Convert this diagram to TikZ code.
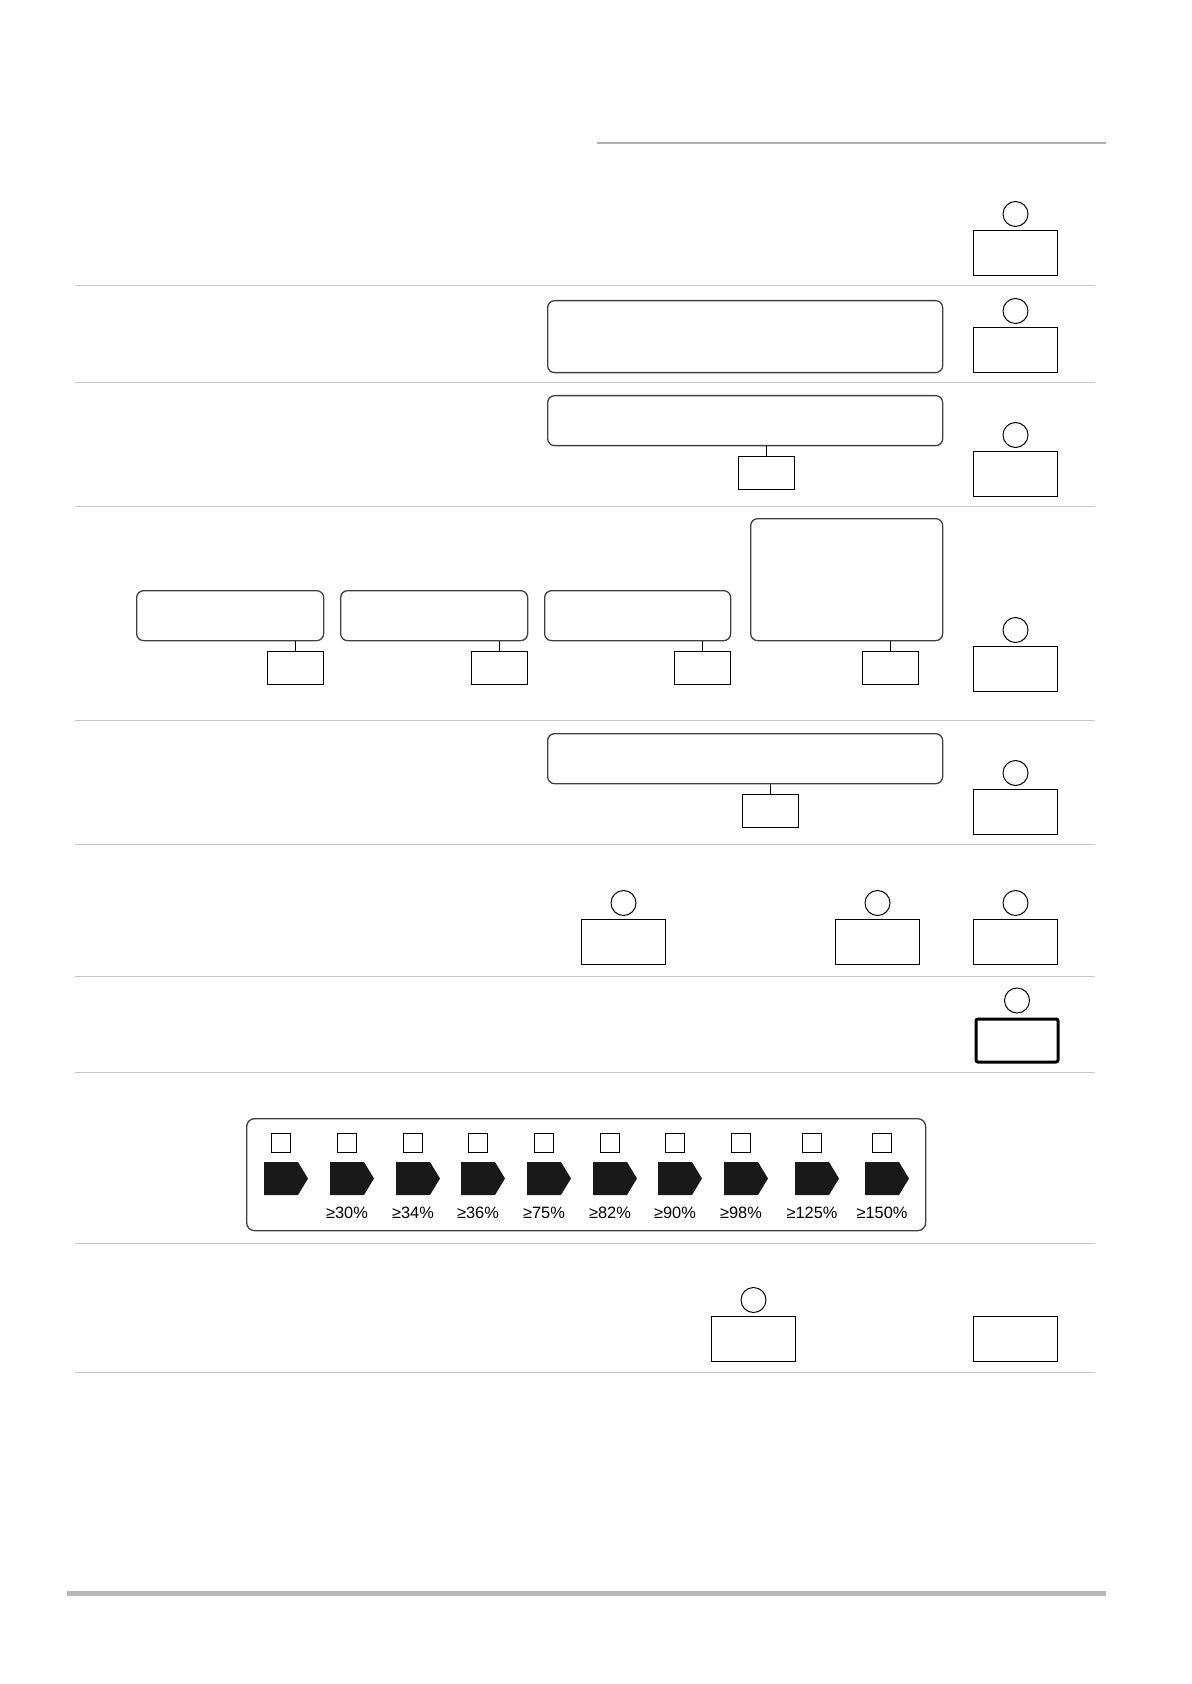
\documentclass[tikz,border=0pt]{standalone}
\usepackage{fontspec}
\setmainfont{Liberation Sans}
\usetikzlibrary{calc}
\tikzset{
    field/.style={
        draw=black!75,
        line width=0.65pt,
        rounded corners=3.5pt,
        anchor=north west,
        inner sep=0pt,
        minimum width=197.5pt
    },
    valbox/.style={
        draw,
        line width=0.5pt,
        anchor=north west,
        inner sep=0pt,
        minimum width=42pt,
        minimum height=22.5pt
    },
    tagbox/.style={
        draw,
        line width=0.5pt,
        anchor=north west,
        inner sep=0pt,
        minimum width=28pt,
        minimum height=16.5pt
    },
    knob/.style={
        draw,
        circle,
        line width=0.5pt,
        inner sep=0pt,
        minimum size=12.5pt
    },
    checkbox/.style={
        draw,
        line width=0.5pt,
        inner sep=0pt,
        minimum size=9.5pt
    },
    rowrule/.style={
        draw=black!22,
        line width=0.5pt
    },
    levelmark/.style={
        fill=black!90
    },
    levellabel/.style={
        inner sep=0pt,
        font=\fontsize{8.2}{9}\selectfont
    }
}

\begin{document}
\begin{tikzpicture}[x=0.5pt,y=-0.5pt]
    \useasboundingbox (0,0) rectangle (1191,1684);

    %% page rules
    \draw[draw=black!30,line width=0.75pt] (597,143) -- (1106,143);
    \draw[draw=black!28,line width=2.5pt] (67,1593) -- (1106,1593);
    \foreach \ry in {286,383,506,720,844,976,1072,1243,1372}
        \draw[rowrule] (75,\ry) -- (1095,\ry);

    %% Row 1
    \node (V1) [valbox] at (973,230) {};
    \node (K1) [knob] at ($(V1.north)+(0,-16)$) {};

    %% Row 2
    \node (F2) [field,minimum height=36pt] at (547,300) {};
    \node (V2) [valbox] at (973,327) {};
    \node (K2) [knob] at ($(V2.north)+(0,-16)$) {};

    %% Row 3
    \node (F3) [field,minimum height=25pt] at (547,395) {};
    \node (T3) [tagbox] at (738,456) {};
    \draw (T3.north) -- (T3.north |- F3.south);
    \node (V3) [valbox] at (973,451) {};
    \node (K3) [knob] at ($(V3.north)+(0,-16)$) {};

    %% Row 4
    \node (F4a) [field,minimum width=93.5pt,minimum height=25pt] at (136,590) {};
    \node (F4b) [field,minimum width=93.5pt,minimum height=25pt] at (340,590) {};
    \node (F4c) [field,minimum width=93pt,minimum height=25pt] at (544,590) {};
    \node (F4d) [field,minimum width=96pt,minimum height=61pt] at (750,518) {};
    \node (T4a) [tagbox] at (267,651) {};
    \node (T4b) [tagbox] at (471,651) {};
    \node (T4c) [tagbox] at (674,651) {};
    \node (T4d) [tagbox] at (862,651) {};
    \foreach \k in {a,b,c,d}
        \draw (T4\k.north) -- (T4\k.north |- F4\k.south);
    \node (V4) [valbox] at (973,646) {};
    \node (K4) [knob] at ($(V4.north)+(0,-16)$) {};

    %% Row 5
    \node (F5) [field,minimum height=25pt] at (547,733) {};
    \node (T5) [tagbox] at (742,794) {};
    \draw (T5.north) -- (T5.north |- F5.south);
    \node (V5) [valbox] at (973,789) {};
    \node (K5) [knob] at ($(V5.north)+(0,-16)$) {};

    %% Row 6
    \node (V6a) [valbox] at (581,919) {};
    \node (K6a) [knob] at ($(V6a.north)+(0,-16)$) {};
    \node (V6b) [valbox] at (835,919) {};
    \node (K6b) [knob] at ($(V6b.north)+(0,-16)$) {};
    \node (V6c) [valbox] at (973,919) {};
    \node (K6c) [knob] at ($(V6c.north)+(0,-16)$) {};

    %% Row 7
    \node (V7) [valbox,line width=1.5pt,rounded corners=1pt,minimum width=41pt,minimum height=21.5pt] at (974.5,1017.5) {};
    \node (K7) [knob] at ($(V7.north)+(0,-17)$) {};

    %% Row 8: level panel
    \node (P8) [field,rounded corners=4pt,minimum width=339.5pt,minimum height=56pt] at (246,1118) {};
    \foreach \cx [count=\i] in {281,347,413,478,544,610,675,741,812,882} {
        \node (B\i) [checkbox] at (\cx,1143) {};
        \fill[levelmark] (\cx-17,1162) -- ++(34,0) -- ++(10,16.5) -- ++(-10,16.5) -- ++(-34,0) -- cycle;
    }
    \foreach \cx/\lbl [count=\i] in {347/{≥30\%},413/{≥34\%},478/{≥36\%},544/{≥75\%},610/{≥82\%},675/{≥90\%},741/{≥98\%},812/{≥125\%},882/{≥150\%}}
        \node (L\i) [levellabel] at (\cx,1213) {\lbl};

    %% Row 9
    \node (V9a) [valbox] at (711,1316) {};
    \node (K9a) [knob] at ($(V9a.north)+(0,-16)$) {};
    \node (V9b) [valbox] at (973,1316) {};

\end{tikzpicture}
\end{document}
